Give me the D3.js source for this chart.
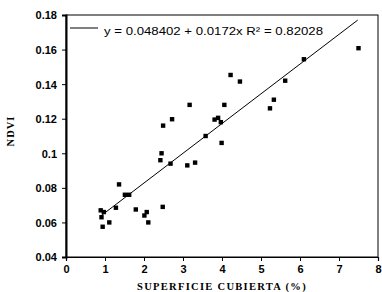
<!DOCTYPE html>
<html><head><meta charset="utf-8">
<script src="https://cdn.jsdelivr.net/npm/d3@7"></script>
<style>body{margin:0;background:#fff}</style>
</head><body>
<svg id="c" width="382" height="292"></svg>
<script>
const superficie = [0.89,0.97,0.91,0.94,1.11,1.28,1.36,1.51,1.62,1.79,2.01,2.07,2.11,2.48,2.42,2.45,2.68,3.11,3.31,2.49,2.72,3.17,4.06,3.99,3.58,3.81,3.90,3.97,4.22,4.46,5.23,5.33,5.62,6.10,7.50];
const ndvi = [0.067,0.066,0.063,0.0575,0.060,0.0685,0.082,0.076,0.076,0.0675,0.064,0.066,0.060,0.069,0.096,0.100,0.094,0.093,0.0946,0.116,0.1197,0.128,0.128,0.106,0.110,0.1195,0.1205,0.118,0.1453,0.1415,0.126,0.131,0.142,0.1544,0.1608];
const xTicks = [0,1,2,3,4,5,6,7,8];
const yTicks = [0.04,0.06,0.08,0.1,0.12,0.14,0.16,0.18];
const yTickLabels = ["0.04","0.06","0.08","0.1","0.12","0.14","0.16","0.18"];
const fitIntercept = 0.048402, fitSlope = 0.0172;
const fitRange = [0.9, 7.48];
const legendText = "y = 0.048402 + 0.0172x R\u00B2 = 0.82028";
const xTitle = "SUPERFICIE CUBIERTA (%)";
const yTitle = "NDVI";

const L=66,R=378,T=15,B=257;
const svg = d3.select("#c");
const x = d3.scaleLinear().domain([0,8]).range([L,R]);
const y = d3.scaleLinear().domain([0.04,0.18]).range([B,T]);

// frame
svg.append("rect").attr("x",L).attr("y",T).attr("width",R-L).attr("height",B-T)
  .attr("fill","none").attr("stroke","#000").attr("stroke-width",1);

const ax = svg.append("g").attr("transform",`translate(0,${B})`)
  .call(d3.axisBottom(x).tickValues(xTicks).tickSize(4).tickFormat(d3.format("d")));
const ay = svg.append("g").attr("transform",`translate(${L},0)`)
  .call(d3.axisLeft(y).tickValues(yTicks).tickSize(4).tickFormat((d,i)=>yTickLabels[i]));
[ax,ay].forEach(g=>{
  g.select(".domain").attr("stroke","#000").attr("stroke-width",1.2);
  g.selectAll("text").attr("fill","#000").attr("font-family","Liberation Sans, Arial, sans-serif")
    .attr("font-size",11).attr("font-weight","bold");
});
ay.select(".domain").attr("stroke-width",2);
ay.selectAll("text").attr("x",-9).attr("dy","0.35em");
ax.selectAll("text").attr("y",8);

// fit line
svg.append("line")
  .attr("x1",x(fitRange[0])).attr("y1",y(fitIntercept+fitSlope*fitRange[0]))
  .attr("x2",x(fitRange[1])).attr("y2",y(fitIntercept+fitSlope*fitRange[1]))
  .attr("stroke","#000").attr("stroke-width",1);

// points
svg.append("g").selectAll("rect").data(superficie).join("rect")
  .attr("x",(d)=>x(d)-2.2).attr("y",(d,i)=>y(ndvi[i])-2.2)
  .attr("width",4.4).attr("height",4.4).attr("fill","#000");

// legend
svg.append("line").attr("x1",70).attr("x2",98).attr("y1",28).attr("y2",28).attr("stroke","#000");
svg.append("text").attr("x",104).attr("y",35).text(legendText)
  .attr("font-family","Liberation Sans, Arial, sans-serif").attr("font-size",11.5).attr("fill","#000")
  .attr("textLength",219).attr("lengthAdjust","spacingAndGlyphs");

// titles
svg.append("text").attr("x",222).attr("y",290).attr("text-anchor","middle").text(xTitle)
  .attr("font-family","Liberation Serif, serif").attr("font-weight","bold").attr("font-size",10.5)
  .attr("letter-spacing",1.3);
svg.append("text").attr("transform","translate(14,131) rotate(-90)").attr("text-anchor","middle").text(yTitle)
  .attr("font-family","Liberation Serif, serif").attr("font-weight","bold").attr("font-size",10.5)
  .attr("letter-spacing",1);
</script>
</body></html>
